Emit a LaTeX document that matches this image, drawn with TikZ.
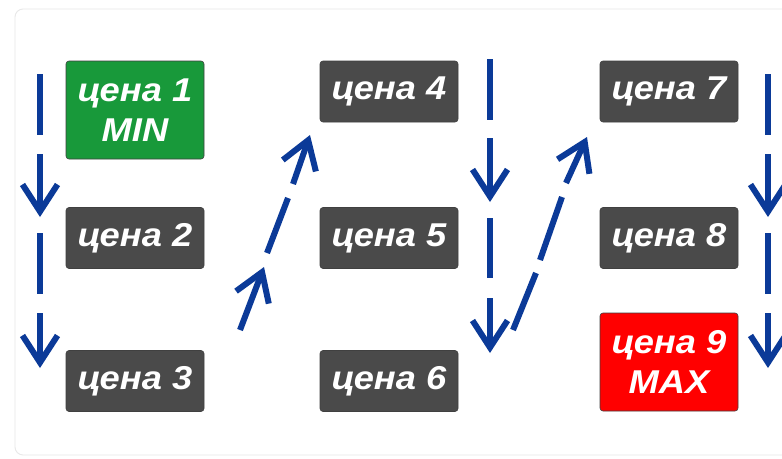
\documentclass[tikz,border=0pt]{standalone}
\usepackage{fontspec}
\setmainfont{Liberation Sans}
\newfontfamily\pricefont[FakeStretch=1.1]{Liberation Sans}
\usetikzlibrary{arrows.meta}
\definecolor{arrowblue}{HTML}{0B3A98}
\definecolor{boxgray}{HTML}{4A4A4A}
\definecolor{boxgreen}{HTML}{18993A}
\definecolor{boxred}{HTML}{FF0000}
\definecolor{cardline}{HTML}{E8E8E8}
\tikzset{
  price/.style={rounded corners=3pt, draw=black!75, line width=0.6pt, minimum width=138pt, minimum height=61pt,
    inner sep=0pt, text=white, align=center,
    font=\pricefont\fontsize{33}{40}\selectfont\bfseries\itshape},
  pricegray/.style={price, fill=boxgray},
  pricegreen/.style={price, fill=boxgreen, minimum height=98pt},
  pricered/.style={price, fill=boxred, minimum height=98pt},
  seg/.style={draw=arrowblue, line width=6pt},
  segarrow/.style={seg, -{Straight Barb[length=27pt, width=35pt, line width=6pt]}}
}
\begin{document}
\begin{tikzpicture}[x=1pt, y=-1pt]
\useasboundingbox (0,0) rectangle (782,458);
\fill[white] (0,0) rectangle (782,458);
\begin{scope}
\clip (0,0) rectangle (782,458);
\draw[cardline, line width=0.9pt, rounded corners=8pt] (15,9) rectangle (800,455);
\end{scope}

% price boxes
\node[pricegreen] (b1) at (135,110) {цена 1\\MIN};
\node[pricegray] (b2) at (135,238) {цена 2};
\node[pricegray] (b3) at (135,381) {цена 3};
\node[pricegray] (b4) at (389,91.5) {цена 4};
\node[pricegray] (b5) at (389,238) {цена 5};
\node[pricegray] (b6) at (389,381) {цена 6};
\node[pricegray] (b7) at (669,91.5) {цена 7};
\node[pricegray] (b8) at (669,238) {цена 8};
\node[pricered] (b9) at (669,362) {цена 9\\MAX};

% left column
\coordinate (l1) at (40,74);  \coordinate (l2) at (40,135);
\coordinate (l3) at (40,154); \coordinate (l4) at (40,217);
\coordinate (l5) at (40,233); \coordinate (l6) at (40,294);
\coordinate (l7) at (40,313); \coordinate (l8) at (40,368);
\draw[seg] (l1) -- (l2);
\draw[segarrow] (l3) -- (l4);
\draw[seg] (l5) -- (l6);
\draw[segarrow] (l7) -- (l8);

% middle column
\coordinate (m1) at (490,59);  \coordinate (m2) at (490,120);
\coordinate (m3) at (490,138); \coordinate (m4) at (490,202);
\coordinate (m5) at (490,218); \coordinate (m6) at (490,278);
\coordinate (m7) at (490,298); \coordinate (m8) at (490,353);
\draw[seg] (m1) -- (m2);
\draw[segarrow] (m3) -- (m4);
\draw[seg] (m5) -- (m6);
\draw[segarrow] (m7) -- (m8);

% right column
\coordinate (r1) at (768,74);  \coordinate (r2) at (768,135);
\coordinate (r3) at (768,154); \coordinate (r4) at (768,217);
\coordinate (r5) at (768,233); \coordinate (r6) at (768,294);
\coordinate (r7) at (768,313); \coordinate (r8) at (768,368);
\draw[seg] (r1) -- (r2);
\draw[segarrow] (r3) -- (r4);
\draw[seg] (r5) -- (r6);
\draw[segarrow] (r7) -- (r8);

% diagonal 1
\coordinate (d1) at (240,330); \coordinate (d2) at (264,267);
\coordinate (d3) at (267,253); \coordinate (d4) at (288,198);
\coordinate (d5) at (293,184); \coordinate (d6) at (310,135);
\draw[segarrow] (d1) -- (d2);
\draw[seg] (d3) -- (d4);
\draw[segarrow] (d5) -- (d6);

% diagonal 2
\coordinate (e1) at (513,330); \coordinate (e2) at (536,273);
\coordinate (e3) at (540,260); \coordinate (e4) at (562,197);
\coordinate (e5) at (566,183); \coordinate (e6) at (587,137);
\draw[seg] (e1) -- (e2);
\draw[seg] (e3) -- (e4);
\draw[segarrow] (e5) -- (e6);
\end{tikzpicture}
\end{document}
